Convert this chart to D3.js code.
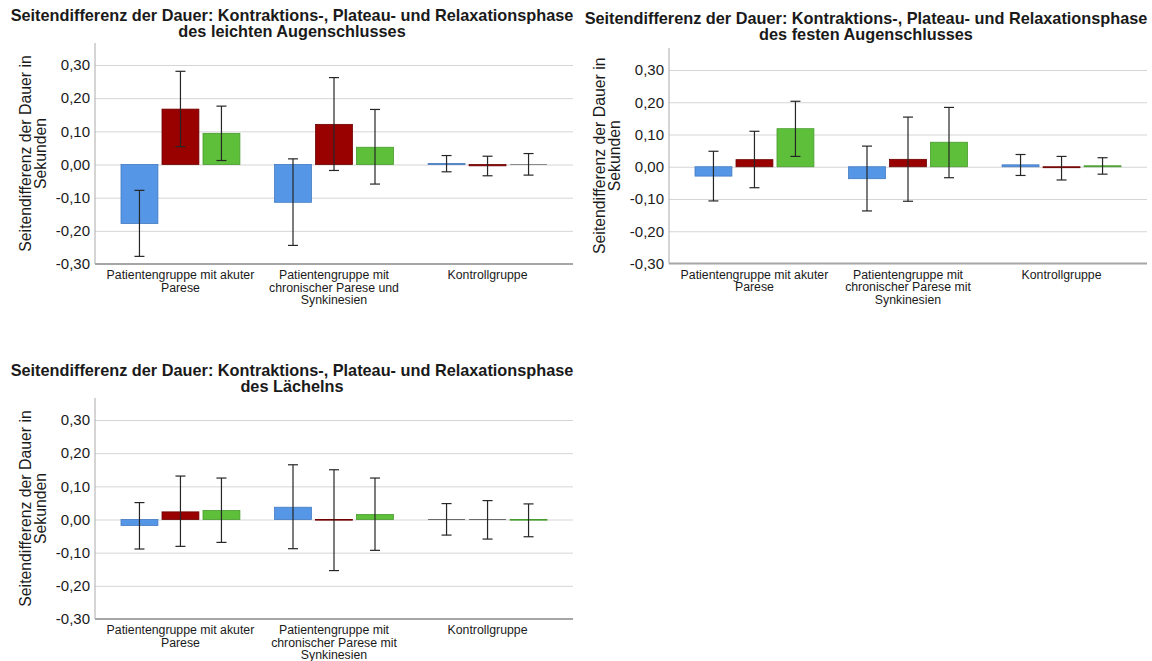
<!DOCTYPE html>
<meta charset="utf-8">
<script src="https://d3js.org/d3.v7.min.js"></script>
<style>
  body { margin: 0; background: #fff; }
  text { font-family: "Liberation Sans", Arial, sans-serif; fill: #1a1a1a; }
</style>
<svg id="chart" width="1152" height="661"></svg>
<script>

// categories (x groups), one label set per chart because the wording differs
var groupsLeicht = [
  ["Patientengruppe mit akuter", "Parese"],
  ["Patientengruppe mit", "chronischer Parese und", "Synkinesien"],
  ["Kontrollgruppe"]
];
var groupsFest = [
  ["Patientengruppe mit akuter", "Parese"],
  ["Patientengruppe mit", "chronischer Parese mit", "Synkinesien"],
  ["Kontrollgruppe"]
];
var groupsLaecheln = groupsFest;

var phases = ["Kontraktionsphase", "Plateauphase", "Relaxationsphase"];
var phaseColors = ["#5597e6", "#990000", "#5ec03a"];
var phaseStroke = ["#4479c0", "#6e0000", "#479a2c"];

var yTicks = [-0.30, -0.20, -0.10, 0.00, 0.10, 0.20, 0.30];

// leichter Augenschluss: means and 95% CI per phase, order = groups
var leichtKontraktion = [-0.178, -0.114, 0.003];
var leichtPlateau     = [0.167, 0.121, -0.004];
var leichtRelaxation  = [0.094, 0.052, 0.000];
var leichtKontraktionCI = [[-0.277, -0.078], [-0.244, 0.017], [-0.022, 0.027]];
var leichtPlateauCI     = [[0.054, 0.281], [-0.018, 0.262], [-0.034, 0.025]];
var leichtRelaxationCI  = [[0.012, 0.176], [-0.059, 0.166], [-0.032, 0.033]];

// fester Augenschluss
var festKontraktion = [-0.029, -0.037, 0.006];
var festPlateau     = [0.022, 0.023, -0.003];
var festRelaxation  = [0.118, 0.076, 0.003];
var festKontraktionCI = [[-0.106, 0.048], [-0.137, 0.064], [-0.027, 0.038]];
var festPlateauCI     = [[-0.065, 0.110], [-0.107, 0.154], [-0.041, 0.032]];
var festRelaxationCI  = [[0.032, 0.203], [-0.034, 0.184], [-0.023, 0.028]];

// Lächeln
var laechelnKontraktion = [-0.018, 0.037, 0.000];
var laechelnPlateau     = [0.023, -0.002, 0.000];
var laechelnRelaxation  = [0.027, 0.015, -0.002];
var laechelnKontraktionCI = [[-0.089, 0.051], [-0.088, 0.165], [-0.047, 0.048]];
var laechelnPlateauCI     = [[-0.081, 0.131], [-0.154, 0.150], [-0.059, 0.057]];
var laechelnRelaxationCI  = [[-0.069, 0.125], [-0.093, 0.125], [-0.052, 0.047]];

var titleLine1 = "Seitendifferenz der Dauer: Kontraktions-, Plateau- und Relaxationsphase";
var yLabel = ["Seitendifferenz der Dauer in", "Sekunden"];

var svg = d3.select("#chart");

var de = d3.formatLocale({decimal: ",", thousands: ".", grouping: [3], currency: ["", " €"], minus: "-"});
var fmt = de.format(".2f");

// layout of the three charts
var panels = [
  {title2: "des leichten Augenschlusses", groups: groupsLeicht,
   means: [leichtKontraktion, leichtPlateau, leichtRelaxation],
   cis: [leichtKontraktionCI, leichtPlateauCI, leichtRelaxationCI],
   x0: 95, x1: 573, top: 43, yMin: 264, yMax: 65, titleY: 21},
  {title2: "des festen Augenschlusses", groups: groupsFest,
   means: [festKontraktion, festPlateau, festRelaxation],
   cis: [festKontraktionCI, festPlateauCI, festRelaxationCI],
   x0: 669, x1: 1147, top: 48, yMin: 263.5, yMax: 70, titleY: 24},
  {title2: "des Lächelns", groups: groupsLaecheln,
   means: [laechelnKontraktion, laechelnPlateau, laechelnRelaxation],
   cis: [laechelnKontraktionCI, laechelnPlateauCI, laechelnRelaxationCI],
   x0: 95, x1: 573, top: 398, yMin: 619, yMax: 420, titleY: 376}
];

panels.forEach(drawPanel);

function drawPanel(p) {
  var g = svg.append("g");

  var y = d3.scaleLinear().domain([-0.30, 0.30]).range([p.yMin, p.yMax]);
  var idx = d3.range(p.groups.length);
  var x = d3.scaleBand().domain(idx).range([p.x0, p.x1])
    .paddingInner(0.199).paddingOuter(0.156);
  var xs = d3.scaleBand().domain(d3.range(phases.length)).range([0, x.bandwidth()])
    .paddingInner(0.1).paddingOuter(0.05);

  // gridlines
  g.append("g")
    .attr("transform", "translate(" + p.x0 + ",0)")
    .call(d3.axisLeft(y).tickValues(yTicks.slice(1)).tickSize(-(p.x1 - p.x0)).tickFormat(""))
    .call(function(a) {
      a.select(".domain").remove();
      a.selectAll("line").attr("stroke", "#d5d5d5").attr("stroke-width", 1);
    });

  // tick labels
  g.append("g")
    .attr("transform", "translate(" + p.x0 + ",0)")
    .call(d3.axisLeft(y).tickValues(yTicks).tickSize(0).tickPadding(5).tickFormat(fmt))
    .call(function(a) {
      a.select(".domain").remove();
      a.selectAll("text").style("font-size", "15px").attr("fill", "#1a1a1a");
    });

  // y axis line
  g.append("line")
    .attr("x1", p.x0).attr("x2", p.x0)
    .attr("y1", p.top).attr("y2", p.yMin)
    .attr("stroke", "#aaaaaa").attr("stroke-width", 1);

  // bars
  phases.forEach(function(ph, s) {
    var bg = g.append("g");
    bg.selectAll("rect")
      .data(p.means[s])
      .enter().append("rect")
        .attr("x", function(d, i) { return x(i) + xs(s); })
        .attr("width", xs.bandwidth())
        .attr("y", function(d) { return y(Math.max(0, d)); })
        .attr("height", function(d) { return Math.abs(y(d) - y(0)); })
        .attr("fill", phaseColors[s])
        .attr("stroke", phaseStroke[s])
        .attr("stroke-width", 0.8);
    // bars with zero mean still show their outline as a flat line
    bg.selectAll("line")
      .data(p.means[s].map(function(d, i) { return {v: d, i: i}; }).filter(function(d) { return d.v === 0; }))
      .enter().append("line")
        .attr("x1", function(d) { return x(d.i) + xs(s); })
        .attr("x2", function(d) { return x(d.i) + xs(s) + xs.bandwidth(); })
        .attr("y1", y(0)).attr("y2", y(0))
        .attr("stroke", s === 2 ? "#8a8a8a" : "#6a6a6a")
        .attr("stroke-width", 1);
  });

  // error bars
  phases.forEach(function(ph, s) {
    var eg = g.append("g").attr("stroke", "#262626").attr("stroke-width", 1.2);
    p.cis[s].forEach(function(ci, i) {
      var cx = x(i) + xs(s) + xs.bandwidth() / 2;
      eg.append("line").attr("x1", cx).attr("x2", cx).attr("y1", y(ci[0])).attr("y2", y(ci[1]));
      eg.append("line").attr("x1", cx - 5).attr("x2", cx + 5).attr("y1", y(ci[0])).attr("y2", y(ci[0]));
      eg.append("line").attr("x1", cx - 5).attr("x2", cx + 5).attr("y1", y(ci[1])).attr("y2", y(ci[1]));
    });
  });

  // x axis line and category labels
  g.append("line")
    .attr("x1", p.x0).attr("x2", p.x1)
    .attr("y1", p.yMin).attr("y2", p.yMin)
    .attr("stroke", "#a6a6a6").attr("stroke-width", 2);

  g.append("g").selectAll("text")
    .data(p.groups)
    .enter().append("text")
      .attr("text-anchor", "middle")
      .style("font-size", "12.3px")
      .attr("transform", function(d, i) { return "translate(" + (x(i) + x.bandwidth() / 2) + "," + (p.yMin + 15) + ")"; })
      .selectAll("tspan")
      .data(function(d) { return d; })
      .enter().append("tspan")
        .attr("x", 0)
        .attr("dy", function(d, j) { return j === 0 ? 0 : 12.6; })
        .text(function(d) { return d; });

  // y title
  g.append("text")
    .attr("text-anchor", "middle")
    .style("font-size", "15.8px")
    .attr("transform", "translate(" + (p.x0 - 64) + "," + ((p.top + p.yMin) / 2) + ") rotate(-90)")
    .selectAll("tspan")
    .data(yLabel)
    .enter().append("tspan")
      .attr("x", 0)
      .attr("dy", function(d, j) { return j === 0 ? 0 : 15; })
      .text(function(d) { return d; });

  // title
  var t = g.append("text")
    .attr("text-anchor", "middle")
    .style("font-size", "16.3px")
    .style("font-weight", "bold")
    .attr("transform", "translate(" + (p.x0 + 197) + "," + p.titleY + ")");
  t.append("tspan").attr("x", 0).attr("dy", 0).text(titleLine1);
  t.append("tspan").attr("x", 0).attr("dy", 16).text(p.title2);
}

</script>
